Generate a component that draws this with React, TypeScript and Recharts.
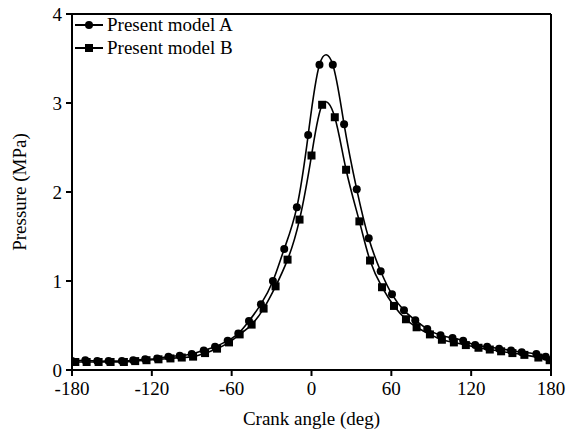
import { Line, LineChart, ReferenceLine, XAxis, YAxis } from 'recharts'

const angleA = [
  -180, -170, -161, -152.5, -142.5, -134, -125, -116, -107.5, -99, -90, -81, -72.5, -63, -55, -47, -38, -29,
  -20.5, -11, -2.5, 6, 16, 24.5, 34, 43, 52, 60.5, 69.5, 78, 87, 97, 106, 114, 123, 132, 141, 150, 158, 169, 176,
]
const pressureA = [
  0.1, 0.11, 0.1, 0.1, 0.1, 0.11, 0.12, 0.13, 0.15, 0.16, 0.18, 0.22, 0.26, 0.33, 0.41, 0.55, 0.74, 1.0,
  1.36, 1.83, 2.64, 3.43, 3.43, 2.76, 2.03, 1.48, 1.11, 0.85, 0.67, 0.56, 0.46, 0.39, 0.36, 0.33, 0.28, 0.26,
  0.24, 0.22, 0.2, 0.18, 0.15,
]

const angleB = [
  -177.5, -169, -160, -151, -141, -132.5, -124, -115, -106, -97.5, -89, -80, -71, -62, -54, -45, -36, -27, -18,
  -9, 0, 8, 17.5, 26, 36, 44, 53, 62, 71, 79, 89, 98, 107, 116, 125.5, 134, 142.5, 151, 160, 170.5, 179,
]
const pressureB = [
  0.09, 0.09, 0.09, 0.09, 0.09, 0.1, 0.11, 0.12, 0.13, 0.14, 0.15, 0.19, 0.24, 0.31, 0.4, 0.51, 0.69, 0.94,
  1.24, 1.69, 2.41, 2.98, 2.84, 2.25, 1.67, 1.23, 0.93, 0.72, 0.57, 0.48, 0.4, 0.34, 0.31, 0.28, 0.25, 0.23,
  0.21, 0.19, 0.17, 0.14, 0.11,
]

const seriesNames = ['Present model A', 'Present model B']
const xTicks = [-180, -120, -60, 0, 60, 120, 180]
const yTicks = [0, 1, 2, 3, 4]

const seriesA = angleA.map((x, i) => ({ x, y: pressureA[i] }))
const seriesB = angleB.map((x, i) => ({ x, y: pressureB[i] }))

const font = '"Liberation Serif", "Times New Roman", serif'
const tickStyle = { fontSize: 19, fill: '#000', fontFamily: font }

const Square = (props: any) => {
  const { cx, cy, index } = props
  if (cx == null || cy == null) return <g key={index} />
  return <rect key={index} x={cx - 4} y={cy - 4} width={8} height={8} fill="#000" />
}

const Circle = (props: any) => {
  const { cx, cy, index } = props
  if (cx == null || cy == null) return <g key={index} />
  return <circle key={index} cx={cx} cy={cy} r={4} fill="#000" />
}

// legend sits inside the plot, top-left, without taking layout space
const LegendBox = () => (
  <div
    style={{
      position: 'absolute',
      left: 74,
      top: 13,
      fontFamily: font,
      fontSize: 19,
      color: '#000',
      lineHeight: '23px',
      pointerEvents: 'none',
    }}
  >
    {seriesNames.map((name, i) => (
      <div key={name} style={{ display: 'flex', alignItems: 'center', height: 23 }}>
        <svg width={31} height={12} style={{ marginRight: 2 }}>
          <line x1={1} y1={6} x2={29} y2={6} stroke="#000" strokeWidth={2} />
          {i === 0 ? (
            <circle cx={15} cy={6} r={4} fill="#000" />
          ) : (
            <rect x={11} y={2} width={8} height={8} fill="#000" />
          )}
        </svg>
        <span>{name}</span>
      </div>
    ))}
  </div>
)

export default function App() {
  return (
    <div style={{ position: 'absolute', left: 0, top: 0, width: 570, height: 436, background: '#fff' }}>
      <LineChart width={570} height={436} margin={{ top: 14, right: 19, left: 12, bottom: 36 }}>
        <XAxis
          dataKey="x"
          type="number"
          domain={[-180, 180]}
          ticks={xTicks}
          allowDataOverflow
          tickSize={6}
          tickMargin={6}
          height={30}
          stroke="#000"
          strokeWidth={2}
          tick={tickStyle}
          label={{ value: 'Crank angle (deg)', position: 'bottom', offset: 12, style: { ...tickStyle } }}
        />
        <YAxis
          dataKey="y"
          type="number"
          domain={[0, 4]}
          ticks={yTicks}
          allowDataOverflow
          width={60}
          tickSize={6}
          tickMargin={4}
          stroke="#000"
          strokeWidth={2}
          tick={tickStyle}
          label={{
            value: 'Pressure (MPa)',
            angle: -90,
            position: 'insideLeft',
            offset: 7,
            style: { ...tickStyle, textAnchor: 'middle' },
          }}
        />
        <ReferenceLine y={4} stroke="#000" strokeWidth={2} />
        <ReferenceLine x={180} stroke="#000" strokeWidth={2} />
        <Line
          data={seriesA}
          dataKey="y"
          name={seriesNames[0]}
          type="natural"
          stroke="#000"
          strokeWidth={1.6}
          dot={Circle}
          activeDot={false}
          isAnimationActive={false}
        />
        <Line
          data={seriesB}
          dataKey="y"
          name={seriesNames[1]}
          type="natural"
          stroke="#000"
          strokeWidth={1.6}
          dot={Square}
          activeDot={false}
          isAnimationActive={false}
        />
      </LineChart>
      <LegendBox />
    </div>
  )
}
